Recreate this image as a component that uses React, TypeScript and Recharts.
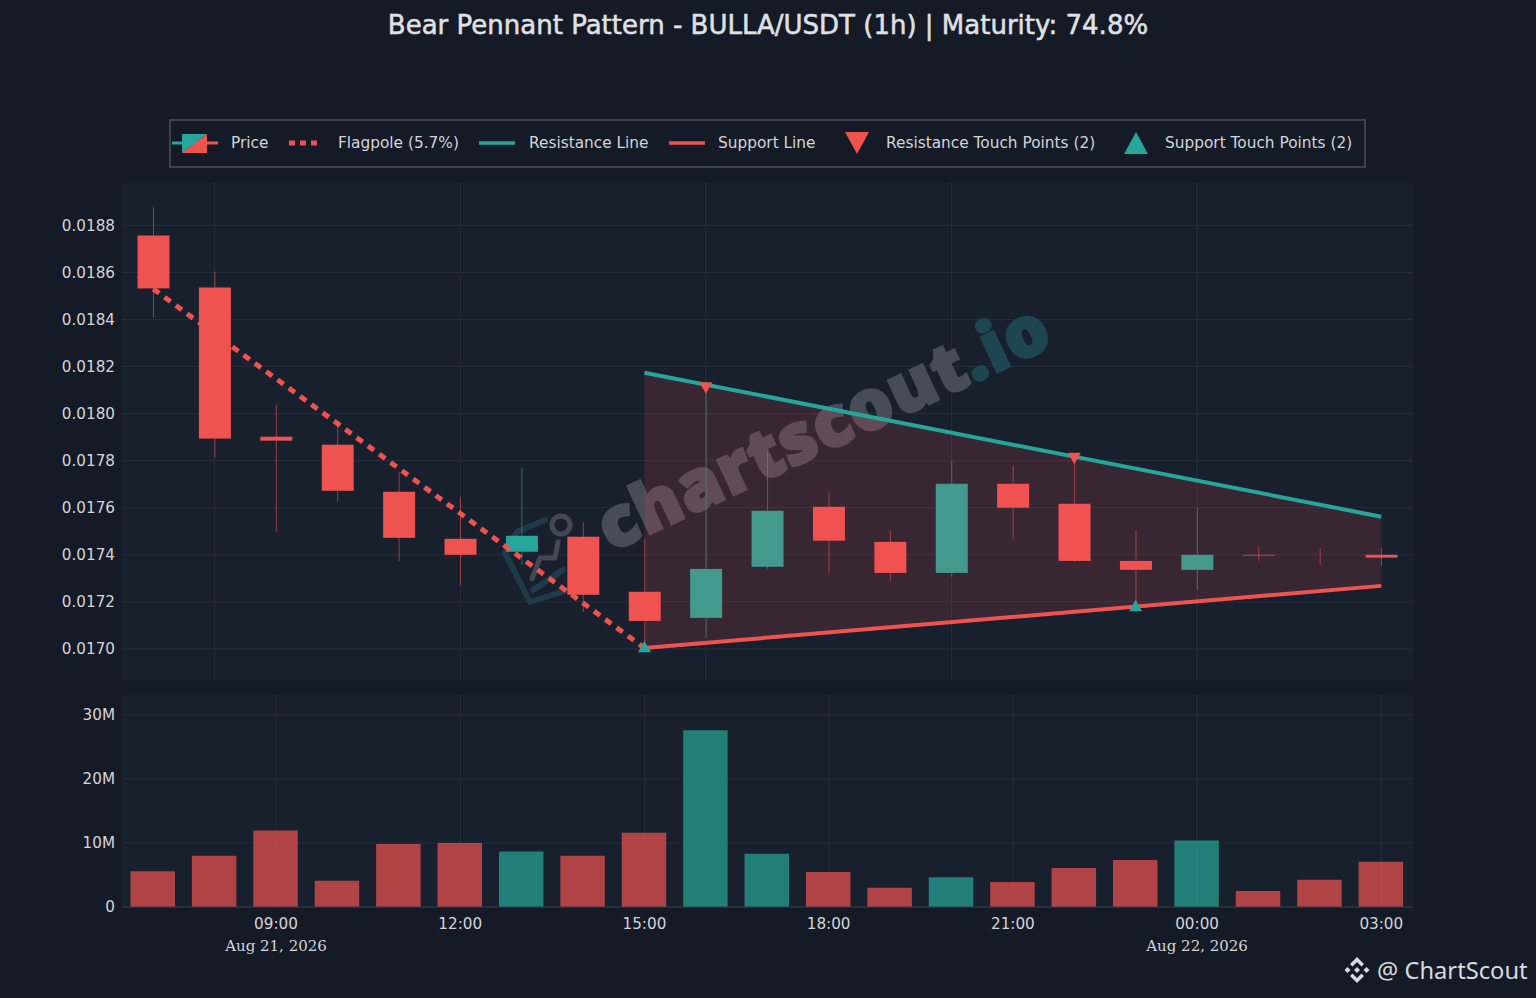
import { Area, Bar, CartesianGrid, Cell, ComposedChart, Line, XAxis, YAxis } from 'recharts'

const hours = ['07:00', '08:00', '09:00', '10:00', '11:00', '12:00', '13:00', '14:00', '15:00', '16:00', '17:00', '18:00', '19:00', '20:00', '21:00', '22:00', '23:00', '00:00', '01:00', '02:00', '03:00']
const opens = [0.018757, 0.018536, 0.017902, 0.017868, 0.017668, 0.017468, 0.017413, 0.017477, 0.017243, 0.017132, 0.017349, 0.017604, 0.017455, 0.017323, 0.017702, 0.017617, 0.017374, 0.017336, 0.0174, 0.017396, 0.0174]
const closes = [0.018532, 0.017894, 0.017885, 0.017672, 0.017472, 0.0174, 0.017481, 0.01723, 0.017119, 0.01734, 0.017587, 0.01746, 0.017323, 0.017702, 0.0176, 0.017374, 0.017336, 0.0174, 0.017397, 0.017396, 0.017388]
const highs = [0.018877, 0.018604, 0.018038, 0.017945, 0.017753, 0.017647, 0.01777, 0.01754, 0.017468, 0.018123, 0.017838, 0.017668, 0.017502, 0.0178, 0.017779, 0.017804, 0.017506, 0.0176, 0.017434, 0.017426, 0.01743]
const lows = [0.018408, 0.017813, 0.017498, 0.017626, 0.017374, 0.017272, 0.017357, 0.017157, 0.017004, 0.017047, 0.01734, 0.017323, 0.017289, 0.017306, 0.017464, 0.01737, 0.017187, 0.017251, 0.017374, 0.017357, 0.017353]
const volumes = [5.6, 8, 11.95, 4.1, 9.85, 10, 8.65, 8, 11.6, 27.6, 8.3, 5.45, 3, 4.65, 3.9, 6.1, 7.35, 10.4, 2.5, 4.25, 7.05]

// only the end points are known, the rest is bridged with connectNulls
const flagpoleEnds: Record<string, number> = { '07:00': 0.01853, '15:00': 0.017004 }
const resistanceEnds: Record<string, number> = { '15:00': 0.018174, '03:00': 0.017562 }
const supportEnds: Record<string, number> = { '15:00': 0.017004, '03:00': 0.017268 }
const resistanceTouches: Record<string, number> = { '16:00': 0.01811, '22:00': 0.01781 }
const supportTouches: Record<string, number> = { '15:00': 0.017009, '23:00': 0.017183 }

const priceTicks = [0.017, 0.0172, 0.0174, 0.0176, 0.0178, 0.018, 0.0182, 0.0184, 0.0186, 0.0188]
const priceGridHours = ['08:00', '12:00', '16:00', '20:00', '00:00']
const volumeTicks = [0, 10, 20, 30]
const timeTicks = ['09:00', '12:00', '15:00', '18:00', '21:00', '00:00', '03:00']
const dateLabels: Record<string, string> = { '09:00': 'Aug 21, 2026', '00:00': 'Aug 22, 2026' }

const legendLabels = ['Price', 'Flagpole (5.7%)', 'Resistance Line', 'Support Line', 'Resistance Touch Points (2)', 'Support Touch Points (2)']

const RED = '#ef5350'
const GREEN = '#26a69a'
const PAGE_BG = '#151a27'
const PLOT_BG = '#181f2d'
const GRID = '#272d3a'
const TEXT = '#d3d5da'
const SANS = '"DejaVu Sans", sans-serif'
const X_PADDING = { left: 0.5, right: 1 }

const priceData = hours.map((hour, i) => ({
    hour,
    open: opens[i],
    close: closes[i],
    range: [lows[i], highs[i]],
    flagpole: flagpoleEnds[hour] ?? null,
    resistance: resistanceEnds[hour] ?? null,
    support: supportEnds[hour] ?? null,
    channel: resistanceEnds[hour] ? [supportEnds[hour], resistanceEnds[hour]] : null,
    resistanceTouch: resistanceTouches[hour] ?? null,
    supportTouch: supportTouches[hour] ?? null,
}))

const volumeData = hours.map((hour, i) => ({ hour, volume: volumes[i], up: closes[i] > opens[i] }))

const Candle = (props: any) => {
    const { x, y, width, height, payload } = props
    const [low, high] = payload.range
    const toY = (v: number) => y + ((high - v) / (high - low)) * height
    const color = payload.close > payload.open ? GREEN : RED
    const top = toY(Math.max(payload.open, payload.close))
    const bottom = toY(Math.min(payload.open, payload.close))
    return (
        <g>
            <line x1={x + width / 2} x2={x + width / 2} y1={y} y2={y + height} stroke={color} strokeWidth={1} strokeOpacity={0.6} />
            {bottom > top && <rect x={x} y={top} width={width} height={bottom - top} fill={color} />}
        </g>
    )
}

const DownMarker = ({ cx, cy, value }: any) => {
    if (value == null || cy == null) return <g />
    return <path d={`M${cx - 6.5} ${cy - 5.5}L${cx + 6.5} ${cy - 5.5}L${cx} ${cy + 6}Z`} fill={RED} />
}

const UpMarker = ({ cx, cy, value }: any) => {
    if (value == null || cy == null) return <g />
    return <path d={`M${cx - 6.5} ${cy + 5.5}L${cx + 6.5} ${cy + 5.5}L${cx} ${cy - 6}Z`} fill={GREEN} />
}

const TimeTick = ({ x, y, payload }: any) => (
    <g>
        <text x={x} y={y + 14} textAnchor="middle" fontSize={15.2} fontFamily={SANS} fill={TEXT}>{payload.value}</text>
        {dateLabels[payload.value] && (
            <text x={x} y={y + 36} textAnchor="middle" fontSize={15} fontFamily='"DejaVu Serif", serif' fill={TEXT}>{dateLabels[payload.value]}</text>
        )}
    </g>
)

const Watermark = () => (
    <g>
        <text transform="translate(611 552) rotate(-25)" fontSize={69} fontWeight={800} fontFamily='"Open Sans", sans-serif' fill="#484b58" stroke="#484b58" strokeWidth={3} letterSpacing={1.5}>
            chartscout<tspan fill="#1d4552" stroke="#1d4552">.io</tspan>
        </text>
        <g fill="none" strokeLinecap="round" strokeLinejoin="round">
            <path d="M545 520L517 532L505 553L530 602L568 590" stroke="#1f3a48" strokeWidth={6} />
            <path d="M533 590L563 570" stroke="#1f3a48" strokeWidth={6} />
            <path d="M532 579L540 558L555 558L558 542" stroke="#434854" strokeWidth={5} />
            <circle cx={561} cy={525} r={9} stroke="#434854" strokeWidth={5} />
        </g>
    </g>
)

const LegendBar = () => {
    const text = (label: string, left: number) => (
        <span key={label} style={{ position: 'absolute', left, top: 12, fontSize: 15.35, lineHeight: '20px', color: TEXT, whiteSpace: 'nowrap' }}>{label}</span>
    )
    return (
        <div style={{ position: 'absolute', left: 169, top: 119, width: 1197, height: 49, boxSizing: 'border-box', border: '2px solid #3c4250', fontFamily: SANS }}>
            <svg width={1193} height={45} style={{ position: 'absolute', left: 0, top: 0 }}>
                <line x1={1} x2={24} y1={22} y2={22} stroke={GREEN} strokeWidth={3} />
                <line x1={24} x2={47} y1={22} y2={22} stroke={RED} strokeWidth={3} />
                <path d="M11 13H36L11 32Z" fill={GREEN} />
                <path d="M36 13V32H11Z" fill={RED} />
                <line x1={118} x2={146} y1={22} y2={22} stroke={RED} strokeWidth={5} strokeDasharray="6 5" />
                <line x1={308} x2={344} y1={22} y2={22} stroke={GREEN} strokeWidth={3.5} />
                <line x1={498} x2={534} y1={22} y2={22} stroke={RED} strokeWidth={3.5} />
                <path d="M674 11H698L686 33Z" fill={RED} />
                <path d="M953 33H977L965 11Z" fill={GREEN} />
            </svg>
            {text(legendLabels[0], 60)}
            {text(legendLabels[1], 167)}
            {text(legendLabels[2], 358)}
            {text(legendLabels[3], 547)}
            {text(legendLabels[4], 715)}
            {text(legendLabels[5], 994)}
        </div>
    )
}

export default function App() {
    return (
        <div style={{ position: 'fixed', left: 0, top: 0, width: 1536, height: 998, background: PAGE_BG, overflow: 'hidden' }}>
            <div style={{ position: 'absolute', left: 0, top: 9, width: 1536, textAlign: 'center', fontFamily: SANS, fontSize: 26, lineHeight: '32px', color: '#e0e1e5', whiteSpace: 'nowrap', WebkitTextStroke: '0.5px #e0e1e5' }}>
                Bear Pennant Pattern - BULLA/USDT (1h) | Maturity: 74.8%
            </div>
            <LegendBar />

            <div style={{ position: 'absolute', left: 0, top: 0 }}>
                <ComposedChart width={1536} height={680} data={priceData} barSize={32} margin={{ top: 183, right: 123, bottom: 0, left: 0 }}>
                    <CartesianGrid fill={PLOT_BG} stroke={GRID} strokeWidth={1} syncWithTicks />
                    <XAxis dataKey="hour" hide ticks={priceGridHours} interval={0} padding={X_PADDING} />
                    <YAxis
                        width={122}
                        domain={[0.016868, 0.01898]}
                        allowDataOverflow
                        ticks={priceTicks}
                        tickFormatter={(v) => v.toFixed(4)}
                        tick={{ fontSize: 15.2, fill: TEXT, fontFamily: SANS }}
                        tickLine={false}
                        axisLine={false}
                        tickSize={0}
                        tickMargin={7}
                    />
                    <Watermark />
                    <Bar dataKey="range" shape={Candle} isAnimationActive={false} />
                    <Area dataKey="channel" connectNulls stroke="none" fill={RED} fillOpacity={0.15} dot={false} activeDot={false} isAnimationActive={false} zIndex={350} />
                    <Line dataKey="flagpole" connectNulls stroke={RED} strokeWidth={5} strokeDasharray="7.5 6.5" dot={false} activeDot={false} isAnimationActive={false} />
                    <Line dataKey="resistance" connectNulls stroke={GREEN} strokeWidth={4} dot={false} activeDot={false} isAnimationActive={false} />
                    <Line dataKey="support" connectNulls stroke={RED} strokeWidth={4} dot={false} activeDot={false} isAnimationActive={false} />
                    <Line dataKey="resistanceTouch" stroke="none" dot={<DownMarker />} activeDot={false} isAnimationActive={false} />
                    <Line dataKey="supportTouch" stroke="none" dot={<UpMarker />} activeDot={false} isAnimationActive={false} />
                </ComposedChart>
            </div>

            <div style={{ position: 'absolute', left: 0, top: 695 }}>
                <ComposedChart width={1536} height={303} data={volumeData} barSize={44.5} margin={{ top: 0, right: 123, bottom: 0, left: 0 }}>
                    <CartesianGrid fill={PLOT_BG} stroke={GRID} strokeWidth={1} syncWithTicks />
                    <XAxis
                        dataKey="hour"
                        ticks={timeTicks}
                        interval={0}
                        height={91}
                        padding={X_PADDING}
                        tick={<TimeTick />}
                        tickLine={false}
                        axisLine={{ stroke: '#333a48' }}
                    />
                    <YAxis
                        width={122}
                        domain={[0, 33.1]}
                        allowDataOverflow
                        ticks={volumeTicks}
                        tickFormatter={(v) => (v === 0 ? '0' : `${v}M`)}
                        tick={{ fontSize: 15.2, fill: TEXT, fontFamily: SANS }}
                        tickLine={false}
                        axisLine={false}
                        tickSize={0}
                        tickMargin={7}
                    />
                    <Bar dataKey="volume" isAnimationActive={false}>
                        {volumeData.map((d) => (
                            <Cell key={d.hour} fill={d.up ? GREEN : RED} fillOpacity={0.7} />
                        ))}
                    </Bar>
                </ComposedChart>
            </div>

            <div style={{ position: 'absolute', left: 1343, top: 954, height: 32, display: 'flex', alignItems: 'center', color: '#d8dade', fontFamily: '"Noto Sans", sans-serif', fontSize: 23.7, whiteSpace: 'nowrap' }}>
                <svg width={28} height={30} viewBox="-14 -15 28 30" style={{ marginRight: 6 }}>
                    <path d="M0 -13L7 -6L4.5 -3.5L0 -8L-4.5 -3.5L-7 -6Z" fill="#d8dade" />
                    <path d="M0 13L7 6L4.5 3.5L0 8L-4.5 3.5L-7 6Z" fill="#d8dade" />
                    <path d="M0 -3L3 0L0 3L-3 0Z" fill="#d8dade" />
                    <path d="M-9.5 -3L-6.5 0L-9.5 3L-12.5 0Z" fill="#d8dade" />
                    <path d="M9.5 -3L12.5 0L9.5 3L6.5 0Z" fill="#d8dade" />
                </svg>
                @ ChartScout
            </div>
        </div>
    )
}
